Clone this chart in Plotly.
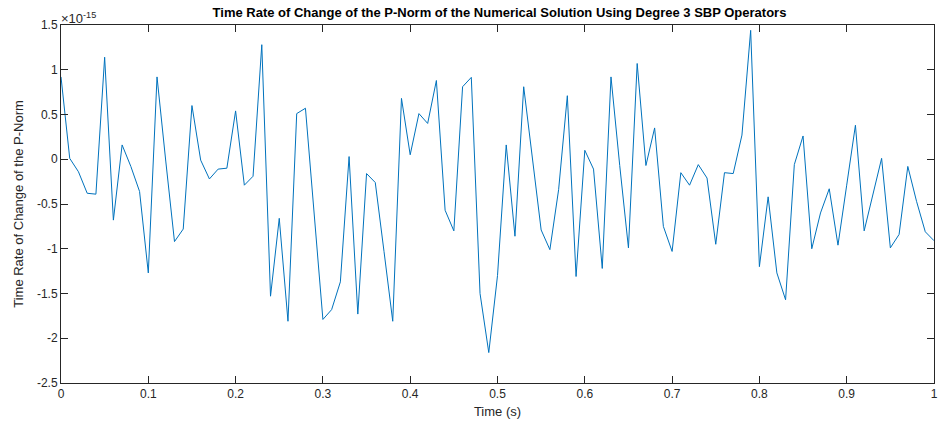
import plotly.graph_objects as go

# time samples (s)
time_s = [round(0.01 * k, 2) for k in range(101)]

# dN/dt values in units of 1e-15
rate_e15 = [
    0.92, 0.01, -0.14, -0.38, -0.39, 1.14, -0.68, 0.16, -0.08, -0.36,
    -1.27, 0.92, -0.02, -0.92, -0.78, 0.60, -0.01, -0.22, -0.11, -0.10,
    0.54, -0.29, -0.19, 1.28, -1.53, -0.66, -1.81, 0.51, 0.57, -0.60,
    -1.79, -1.68, -1.37, 0.03, -1.73, -0.16, -0.26, -1.03, -1.81, 0.68,
    0.05, 0.51, 0.40, 0.88, -0.57, -0.80, 0.81, 0.915, -1.50, -2.16,
    -1.30, 0.16, -0.86, 0.81, 0.01, -0.79, -1.01, -0.34, 0.71, -1.31,
    0.10, -0.11, -1.22, 0.92, -0.07, -0.99, 1.07, -0.07, 0.35, -0.75,
    -1.03, -0.15, -0.29, -0.06, -0.21, -0.95, -0.15, -0.16, 0.27, 1.44,
    -1.20, -0.42, -1.27, -1.57, -0.06, 0.26, -1.00, -0.60, -0.33, -0.96,
    -0.29, 0.38, -0.80, -0.38, 0.01, -0.99, -0.84, -0.08, -0.47, -0.81,
    -0.91,
]

x_ticks = [0, 0.1, 0.2, 0.3, 0.4, 0.5, 0.6, 0.7, 0.8, 0.9, 1]
x_tick_text = ["0", "0.1", "0.2", "0.3", "0.4", "0.5", "0.6", "0.7", "0.8", "0.9", "1"]
y_ticks = [-2.5, -2, -1.5, -1, -0.5, 0, 0.5, 1, 1.5]
y_tick_text = ["-2.5", "-2", "-1.5", "-1", "-0.5", "0", "0.5", "1", "1.5"]

title_text = "Time Rate of Change of the P-Norm of the Numerical Solution Using Degree 3 SBP Operators"
x_title = "Time (s)"
y_title = "Time Rate of Change of the P-Norm"

axis_color = "#262626"
font_family = "Liberation Sans, Arial, sans-serif"

fig = go.Figure()
fig.add_trace(go.Scatter(
    x=time_s, y=rate_e15, mode="lines",
    line=dict(color="#0072BD", width=1),
    hoverinfo="skip", showlegend=False,
))

axis_common = dict(
    showline=True, linecolor=axis_color, linewidth=1, mirror="ticks",
    ticks="inside", ticklen=7, tickcolor=axis_color, tickwidth=1,
    showgrid=False, zeroline=False, ticklabeloverflow="allow",
    tickfont=dict(family=font_family, size=12, color=axis_color),
)

fig.update_layout(
    width=940, height=430,
    margin=dict(l=61, r=2, t=25, b=47),
    paper_bgcolor="white", plot_bgcolor="white",
    font=dict(family=font_family, color=axis_color),
    title=dict(
        text="<b>" + title_text + "</b>",
        x=(61 + 938) / 2 / 940, xanchor="center",
        y=1 - 12 / 430, yanchor="middle",
        font=dict(family=font_family, size=13, color="black"),
    ),
    xaxis=dict(
        range=[0, 1], tickvals=x_ticks, ticktext=x_tick_text,
        title=dict(text=x_title, font=dict(family=font_family, size=13, color=axis_color), standoff=6),
        **axis_common,
    ),
    yaxis=dict(
        range=[-2.5, 1.5], tickvals=y_ticks, ticktext=y_tick_text,
        title=dict(text=y_title, font=dict(family=font_family, size=13, color=axis_color), standoff=10),
        **axis_common,
    ),
    annotations=[dict(
        text="×10<sup>-15</sup>", xref="paper", yref="paper",
        x=0, y=1, xanchor="left", yanchor="bottom", showarrow=False,
        font=dict(family=font_family, size=13, color=axis_color),
        xshift=-2, yshift=-3,
    )],
)

fig.write_html("out.html")
